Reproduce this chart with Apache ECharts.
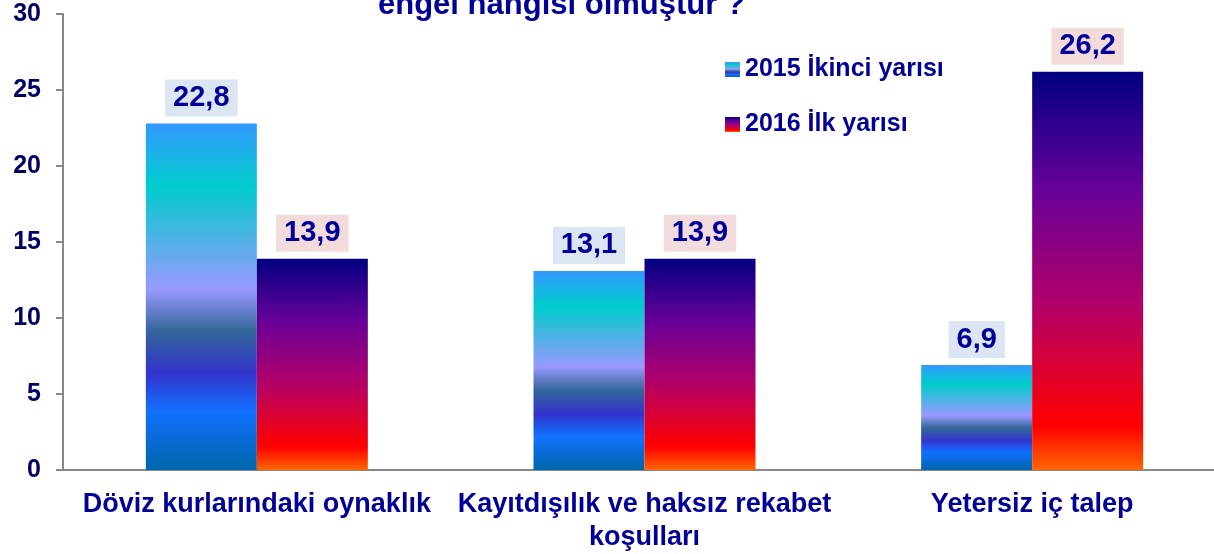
<!DOCTYPE html>
<html>
<head>
<meta charset="utf-8">
<script src="https://cdn.jsdelivr.net/npm/echarts@6/dist/echarts.min.js"></script>
<style>
  html, body { margin: 0; padding: 0; background: #fff; }
  #main { width: 1214px; height: 554px; }
</style>
</head>
<body>
<div id="main"></div>
<script>
// data
var categories = ['Döviz kurlarındaki oynaklık', 'Kayıtdışılık ve haksız rekabet\nkoşulları', 'Yetersiz iç talep'];
var seriesNames = ['2015 İkinci yarısı', '2016 İlk yarısı'];
var values2015 = [22.8, 13.1, 6.9];
var values2016 = [13.9, 13.9, 26.2];
var yTicks = [0, 5, 10, 15, 20, 25, 30];

var navy = '#000099';

var grad2015 = new echarts.graphic.LinearGradient(0, 0, 0, 1, [
  {offset: 0, color: '#3399FF'},
  {offset: 0.18, color: '#00CCCC'},
  {offset: 0.48, color: '#9999FF'},
  {offset: 0.6, color: '#336699'},
  {offset: 0.72, color: '#3333CC'},
  {offset: 0.83, color: '#1170FF'},
  {offset: 1, color: '#0066AA'}
]);
var grad2016 = new echarts.graphic.LinearGradient(0, 0, 0, 1, [
  {offset: 0, color: '#000080'},
  {offset: 0.29, color: '#660099'},
  {offset: 0.58, color: '#B0006A'},
  {offset: 0.89, color: '#FF0000'},
  {offset: 1, color: '#FF6600'}
]);

function fmt(p) {
  return String(p.value).replace('.', ',');
}

var option = {
  animation: false,
  title: {
    text: 'engel hangisi olmuştur ?',
    left: 373,
    top: -15,
    textStyle: {color: navy, fontSize: 31, fontWeight: 'bold', fontFamily: 'Liberation Sans'}
  },
  legend: {
    orient: 'vertical',
    left: 720,
    top: 52,
    icon: 'rect',
    itemWidth: 15,
    itemHeight: 15,
    itemGap: 30,
    textStyle: {color: navy, fontSize: 25, fontWeight: 'bold', fontFamily: 'Liberation Sans'},
    data: seriesNames
  },
  // the plot runs a little past the right edge of the picture
  grid: {left: 63, top: 14, width: 1163, height: 456, outerBoundsMode: 'none'},
  xAxis: {
    type: 'category',
    data: categories,
    axisLine: {lineStyle: {color: '#888', width: 2}},
    axisTick: {length: 8, lineStyle: {color: '#888', width: 2}},
    axisLabel: {
      interval: 0, margin: 18, color: navy, fontSize: 27, fontWeight: 'bold',
      lineHeight: 33, fontFamily: 'Liberation Sans'
    }
  },
  yAxis: {
    type: 'value',
    min: 0,
    max: yTicks[yTicks.length - 1],
    interval: 5,
    splitLine: {show: false},
    axisLine: {show: true, lineStyle: {color: '#888', width: 2}},
    axisTick: {show: true, length: 7, lineStyle: {color: '#888', width: 2}},
    axisLabel: {margin: 22, color: '#000066', fontSize: 25, fontWeight: 'bold', fontFamily: 'Liberation Sans'}
  },
  series: [
    {
      name: seriesNames[0],
      type: 'bar',
      data: values2015,
      barWidth: 111,
      barGap: '0%',
      itemStyle: {color: grad2015},
      label: {
        show: true, position: 'top', distance: 7, formatter: fmt,
        color: navy, fontSize: 29, fontWeight: 'bold', fontFamily: 'Liberation Sans',
        backgroundColor: '#DCE6F2', padding: [4, 8]
      }
    },
    {
      name: seriesNames[1],
      type: 'bar',
      data: values2016,
      barWidth: 111,
      barGap: '0%',
      itemStyle: {color: grad2016},
      label: {
        show: true, position: 'top', distance: 7, formatter: fmt,
        color: navy, fontSize: 29, fontWeight: 'bold', fontFamily: 'Liberation Sans',
        backgroundColor: '#F2DCDB', padding: [4, 8]
      }
    }
  ]
};

var myChart = echarts.init(document.getElementById('main'));
myChart.setOption(option);
</script>
</body>
</html>
